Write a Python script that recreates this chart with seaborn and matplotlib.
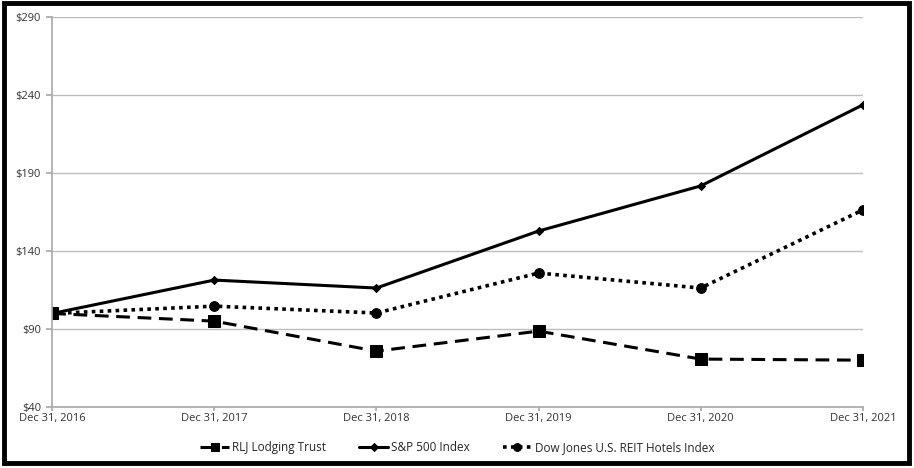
import matplotlib
matplotlib.use("Agg")
import matplotlib.pyplot as plt
import seaborn as sns
import pandas as pd
from matplotlib.patches import Rectangle

dates = ["Dec 31, 2016", "Dec 31, 2017", "Dec 31, 2018", "Dec 31, 2019", "Dec 31, 2020", "Dec 31, 2021"]
rlj = [100.0, 95.1, 75.9, 88.7, 70.8, 70.1]
sp500 = [100.0, 121.4, 116.3, 152.8, 181.7, 233.6]
djreit = [100.0, 104.7, 100.3, 125.9, 116.3, 166.3]
series_names = ["RLJ Lodging Trust", "S&P 500 Index", "Dow Jones U.S. REIT Hotels Index"]
yticks = [40, 90, 140, 190, 240, 290]

sns.set_theme(style="white")
plt.rcParams['font.family'] = ['Open Sans', 'DejaVu Sans']

fig = plt.figure(figsize=(9.14, 4.68), dpi=100)
ax = fig.add_axes([0.057, 0.130, 0.887, 0.834])

x = list(range(len(dates)))
styles = [
    dict(data=rlj, ls=(0, (4.5, 2.5)), marker="s", ms=8, lw=2.2),
    dict(data=sp500, ls="-", marker="D", ms=4.5, lw=2.2),
    dict(data=djreit, ls=(0, (1, 1.2)), marker="o", ms=7, lw=2.6),
]
for name, st in zip(series_names, styles):
    sns.lineplot(x=x, y=st["data"], ax=ax, color="black", linestyle=st["ls"],
                 marker=st["marker"], markersize=st["ms"], linewidth=st["lw"],
                 markeredgecolor="black", label=name)

ax.set_xlim(0, 5)
ax.set_ylim(40, 290)
ax.set_yticks(yticks)
ax.set_yticklabels([f"${v}" for v in yticks], fontsize=8, color="#333333")
ax.set_xticks(x)
ax.set_xticklabels(dates, fontsize=8, color="#333333")
ax.yaxis.grid(True, color="#bdbdbd", linewidth=1)
ax.xaxis.grid(False)
for s in ["top", "right"]:
    ax.spines[s].set_visible(False)
ax.spines["left"].set_color("#aaaaaa")
ax.spines["bottom"].set_color("#aaaaaa")
ax.tick_params(axis="y", which="both", left=True, length=4, color="#aaaaaa", pad=4)
ax.tick_params(axis="x", which="both", bottom=True, length=3, color="#aaaaaa", pad=1.5)

leg = ax.legend(loc="upper center", bbox_to_anchor=(0.5, -0.06), ncol=3, frameon=False,
                fontsize=8.5, handlelength=2.4, columnspacing=2.8, handletextpad=0.3,
                markerscale=0.8)

fig.patches.append(Rectangle((0.004, 0.011), 0.99, 0.982, transform=fig.transFigure,
                             fill=False, edgecolor="black", linewidth=3.5))
fig.savefig("out.png", dpi=100)
